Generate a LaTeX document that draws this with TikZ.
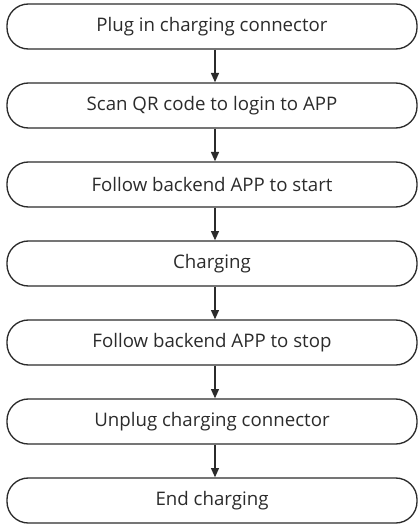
\documentclass[tikz,border=0pt]{standalone}
\usepackage{fontspec}
\setmainfont{Open Sans}
\usetikzlibrary{arrows.meta}
\definecolor{ink}{HTML}{2B2B2B}
\begin{document}
\begin{tikzpicture}[x=0.75pt,y=-0.75pt,
  stepbox/.style={draw=ink, line width=1pt, rounded corners=16pt, minimum width=307.5pt, minimum height=33.75pt, inner sep=0pt, text=ink, font=\fontsize{14}{16}\selectfont},
  flow/.style={draw=ink, line width=1pt, -{Triangle[length=7pt,width=6pt]}}]
\useasboundingbox (0,0) rectangle (418,527);
\node[stepbox] (s1) at (212,26.5) {Plug in charging connector};
\node[stepbox] (s2) at (212,105.5) {Scan QR code to login to APP};
\node[stepbox] (s3) at (212,184.5) {Follow backend APP to start};
\node[stepbox] (s4) at (212,263.5) {Charging};
\node[stepbox] (s5) at (212,342.5) {Follow backend APP to stop};
\node[stepbox] (s6) at (212,421.5) {Unplug charging connector};
\node[stepbox] (s7) at (212,500.5) {End charging};
\foreach \a/\b in {s1/s2,s2/s3,s3/s4,s4/s5,s5/s6,s6/s7}
  \draw[flow] (\a.south -| 215,0) -- (\b.north -| 215,0);
\end{tikzpicture}
\end{document}
